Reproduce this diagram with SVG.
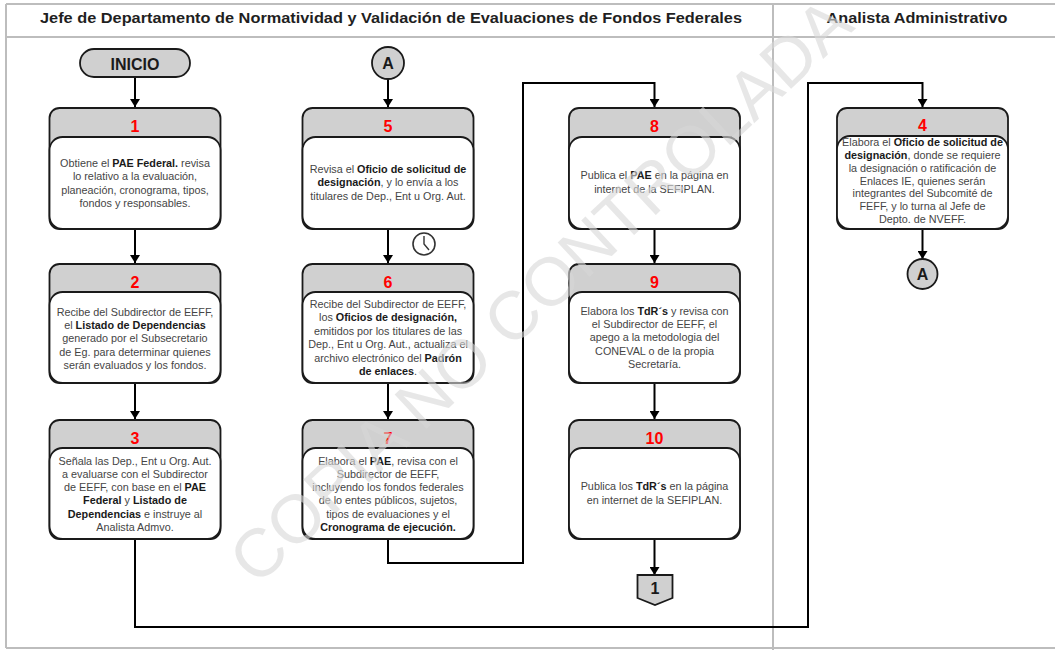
<svg xmlns="http://www.w3.org/2000/svg" width="1055" height="650" viewBox="0 0 1055 650">
<defs>
<marker id="ah" viewBox="0 0 8 10" refX="8" refY="5" markerWidth="8" markerHeight="10" markerUnits="userSpaceOnUse" orient="auto">
<path d="M0,0 L8,5 L0,10 z" fill="#000"/>
</marker>
</defs>
<style>
.lane{stroke:#bdbdbd;stroke-width:2;fill:none}
.hdr{font-family:"Liberation Sans",Arial,sans-serif;font-size:15.5px;font-weight:bold;fill:#1f1f1f;text-anchor:middle}
.box{fill:#d0d0d0;stroke:#1a1a1a;stroke-width:1.8}
.body{fill:#fff;stroke:#1a1a1a;stroke-width:1.8}
.num{font-family:"Liberation Sans",Arial,sans-serif;font-size:16px;font-weight:bold;fill:#ff0000;text-anchor:middle}
.t{font-family:"Liberation Sans",Arial,sans-serif;font-size:10.8px;fill:#454545;text-anchor:middle}
.b{font-weight:bold;fill:#1a1a1a}
.conn{stroke:#000;stroke-width:2;fill:none;marker-end:url(#ah)}
.term{fill:#d0d0d0;stroke:#1a1a1a;stroke-width:1.8}
.tl{font-family:"Liberation Sans",Arial,sans-serif;font-size:16px;font-weight:bold;fill:#1a1a1a;text-anchor:middle}
.wm{font-family:"Liberation Sans",Arial,sans-serif;font-size:68px;fill:#d8d8d8;opacity:0.6;text-anchor:middle}
</style>
<rect width="1055" height="650" fill="#fff"/>
<g id="lanes">
<path class="lane" d="M6,4 H1055 M6,37 H1055 M6,648 H1055 M6,4 V648 M773,4 V650"/>
<text class="hdr" x="391" y="23" textLength="702" lengthAdjust="spacingAndGlyphs">Jefe de Departamento de Normatividad y Validación de Evaluaciones de Fondos Federales</text>
<text class="hdr" x="917" y="23" textLength="181" lengthAdjust="spacingAndGlyphs">Analista Administrativo</text>
</g>
<g id="connectors">
<path class="conn" d="M135,77 V107"/>
<path class="conn" d="M388,79 V107"/>
<path class="conn" d="M135,229 V263"/>
<path class="conn" d="M135,383 V419"/>
<path class="conn" d="M388,229 V263"/>
<path class="conn" d="M388,383 V419"/>
<path class="conn" d="M388,539 V563 H523 V83 H654.5 V107"/>
<path class="conn" d="M654.5,229 V263"/>
<path class="conn" d="M654.5,383 V419"/>
<path class="conn" d="M654.5,539 V575"/>
<path class="conn" d="M135,539 V627 H808 V83 H922.5 V107"/>
<path class="conn" d="M922.5,229 V259"/>
</g>
<g id="inicio">
<rect class="term" x="80" y="49" width="110" height="28" rx="14"/>
<text class="tl" x="135" y="69.5">INICIO</text>
</g>
<g id="conA1">
<circle class="term" cx="388" cy="63" r="16"/>
<text class="tl" x="388" y="69">A</text>
</g>
<g id="node1">
<rect class="box" x="49.5" y="108" width="171" height="121" rx="10"/>
<rect class="body" x="49.5" y="137" width="171" height="92" rx="13"/>
<text class="num" x="135" y="131.5">1</text>
<text class="t" x="135" y="167">Obtiene el <tspan class="b">PAE Federal.</tspan> revisa</text>
<text class="t" x="135" y="180.4">lo relativo a la evaluación,</text>
<text class="t" x="135" y="193.8">planeación, cronograma, tipos,</text>
<text class="t" x="135" y="207.2">fondos y responsables.</text>
</g>
<g id="node2">
<rect class="box" x="49.5" y="264" width="171" height="119" rx="10"/>
<rect class="body" x="49.5" y="292" width="171" height="91" rx="13"/>
<text class="num" x="135" y="287.5">2</text>
<text class="t" x="135" y="315.5">Recibe del Subdirector de EEFF,</text>
<text class="t" x="135" y="328.9">el <tspan class="b">Listado de Dependencias</tspan></text>
<text class="t" x="135" y="342.3">generado por el Subsecretario</text>
<text class="t" x="135" y="355.7">de Eg. para determinar quienes</text>
<text class="t" x="135" y="369.1">serán evaluados y los fondos.</text>
</g>
<g id="node3">
<rect class="box" x="49.5" y="420" width="171" height="119" rx="10"/>
<rect class="body" x="49.5" y="448" width="171" height="91" rx="13"/>
<text class="num" x="135" y="443.5">3</text>
<text class="t" x="135" y="464.5">Señala las Dep., Ent u Org. Aut.</text>
<text class="t" x="135" y="477.8">a evaluarse con el Subdirector</text>
<text class="t" x="135" y="491.1">de EEFF, con base en el <tspan class="b">PAE</tspan></text>
<text class="t" x="135" y="504.4"><tspan class="b">Federal</tspan> y <tspan class="b">Listado de</tspan></text>
<text class="t" x="135" y="517.7"><tspan class="b">Dependencias</tspan> e instruye al</text>
<text class="t" x="135" y="531">Analista Admvo.</text>
</g>
<g id="node5">
<rect class="box" x="302.5" y="108" width="171" height="121" rx="10"/>
<rect class="body" x="302.5" y="137" width="171" height="92" rx="13"/>
<text class="num" x="388" y="131.5">5</text>
<text class="t" x="388" y="172.8">Revisa el <tspan class="b">Oficio de solicitud de</tspan></text>
<text class="t" x="388" y="186.2"><tspan class="b">designación</tspan>, y lo envía a los</text>
<text class="t" x="388" y="199.6">titulares de Dep., Ent u Org. Aut.</text>
</g>
<g id="clock">
<circle cx="424" cy="244" r="11" fill="#fff" stroke="#333" stroke-width="1.6"/>
<path d="M424,236 V244 L429,250" fill="none" stroke="#333" stroke-width="1.4"/>
</g>
<g id="node6">
<rect class="box" x="302.5" y="264" width="171" height="119" rx="10"/>
<rect class="body" x="302.5" y="292" width="171" height="91" rx="13"/>
<text class="num" x="388" y="287.5">6</text>
<text class="t" x="388" y="308">Recibe del Subdirector de EEFF,</text>
<text class="t" x="388" y="321.4">los <tspan class="b">Oficios de designación,</tspan></text>
<text class="t" x="388" y="334.8">emitidos por los titulares de las</text>
<text class="t" x="388" y="348.2">Dep., Ent u Org. Aut., actualiza el</text>
<text class="t" x="388" y="361.6">archivo electrónico del <tspan class="b">Padrón</tspan></text>
<text class="t" x="388" y="375"><tspan class="b">de enlaces</tspan>.</text>
</g>
<g id="node7">
<rect class="box" x="302.5" y="420" width="171" height="119" rx="10"/>
<rect class="body" x="302.5" y="448" width="171" height="91" rx="13"/>
<text class="num" x="388" y="443.5">7</text>
<text class="t" x="388" y="464.5">Elabora el <tspan class="b">PAE</tspan>, revisa con el</text>
<text class="t" x="388" y="477.8">Subdirector de EEFF,</text>
<text class="t" x="388" y="491.1">incluyendo los fondos federales</text>
<text class="t" x="388" y="504.4">de lo entes públicos, sujetos,</text>
<text class="t" x="388" y="517.7">tipos de evaluaciones y el</text>
<text class="t" x="388" y="531"><tspan class="b">Cronograma de ejecución.</tspan></text>
</g>
<g id="node8">
<rect class="box" x="569" y="108" width="171" height="121" rx="10"/>
<rect class="body" x="569" y="137" width="171" height="92" rx="13"/>
<text class="num" x="654.5" y="131.5">8</text>
<text class="t" x="654.5" y="179.4">Publica el <tspan class="b">PAE</tspan> en la página en</text>
<text class="t" x="654.5" y="192.7">internet de la SEFIPLAN.</text>
</g>
<g id="node9">
<rect class="box" x="569" y="264" width="171" height="119" rx="10"/>
<rect class="body" x="569" y="292" width="171" height="91" rx="13"/>
<text class="num" x="654.5" y="287.5">9</text>
<text class="t" x="654.5" y="314.7">Elabora los <tspan class="b">TdR´s</tspan> y revisa con</text>
<text class="t" x="654.5" y="328">el Subdirector de EEFF, el</text>
<text class="t" x="654.5" y="341.3">apego a la metodologia del</text>
<text class="t" x="654.5" y="354.6">CONEVAL o de la propia</text>
<text class="t" x="654.5" y="368">Secretaría.</text>
</g>
<g id="node10">
<rect class="box" x="569" y="420" width="171" height="119" rx="10"/>
<rect class="body" x="569" y="448" width="171" height="91" rx="13"/>
<text class="num" x="654.5" y="443.5">10</text>
<text class="t" x="654.5" y="490.4">Publica los <tspan class="b">TdR´s</tspan> en la página</text>
<text class="t" x="654.5" y="503.7">en internet de la SEFIPLAN.</text>
</g>
<g id="offpage1">
<path class="term" d="M637.5,575 H672.5 V598 L655,605 L637.5,598 Z"/>
<text class="tl" x="655" y="593.5">1</text>
</g>
<g id="node4">
<rect class="box" x="837" y="108" width="171" height="121" rx="10"/>
<rect class="body" x="837" y="136" width="171" height="93" rx="13"/>
<text class="num" x="922.5" y="131">4</text>
<text class="t" x="922.5" y="146.4">Elabora el <tspan class="b">Oficio de solicitud de</tspan></text>
<text class="t" x="922.5" y="159.1"><tspan class="b">designación</tspan>, donde se requiere</text>
<text class="t" x="922.5" y="171.8">la designación o ratificación de</text>
<text class="t" x="922.5" y="184.5">Enlaces IE, quienes serán</text>
<text class="t" x="922.5" y="197.2">integrantes  del Subcomité de</text>
<text class="t" x="922.5" y="209.9">FEFF, y lo turna al Jefe de</text>
<text class="t" x="922.5" y="222.6">Depto. de NVEFF.</text>
</g>
<g id="conA2">
<circle class="term" cx="922.5" cy="274" r="15"/>
<text class="tl" x="922.5" y="280">A</text>
</g>
<g id="watermark">
<text class="wm" transform="translate(540,290) rotate(-43)" x="0" y="24">COPIA NO CONTROLADA</text>
</g>
</svg>
